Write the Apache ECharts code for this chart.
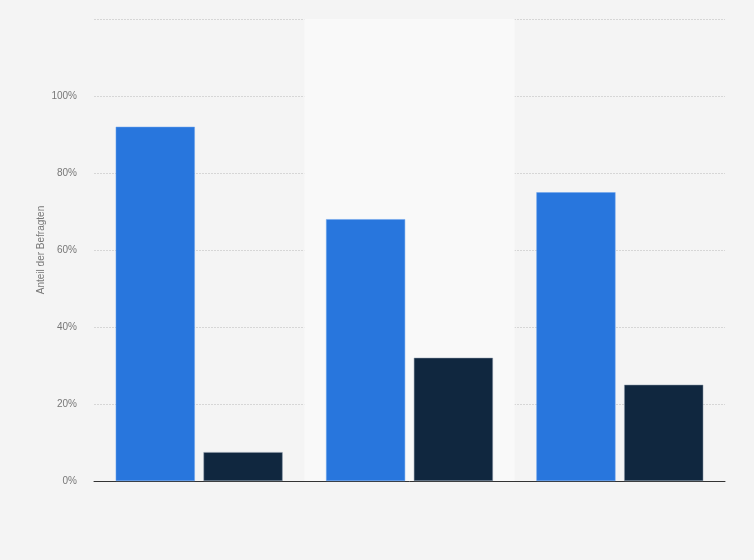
<!doctype html>
<html>
<head>
<meta charset="utf-8" />
<title></title>
<script src="https://cdn.jsdelivr.net/npm/echarts@6/dist/echarts.min.js"></script>
<style>
  html, body { margin: 0; padding: 0; background: #f4f4f4; }
  #main { width: 754px; height: 560px; }
</style>
</head>
<body>
<div id="main"></div>
<script>
// Daten (Anteil in %)
var categories = ['A', 'B', 'C'];
var seriesJa = [92, 68, 75];
var seriesNein = [7.5, 32, 25];
var yTicks = [0, 20, 40, 60, 80, 100, 120];

var myChart = echarts.init(document.getElementById('main'));

var option = {
  backgroundColor: '#f4f4f4',
  animation: false,
  grid: { left: 94, right: 29, top: 19, bottom: 79 },
  xAxis: {
    type: 'category',
    data: categories,
    axisLine: { lineStyle: { color: '#333', width: 1 } },
    axisTick: { show: false },
    axisLabel: { show: false },
    splitArea: { show: true, areaStyle: { color: ['rgba(0,0,0,0)', '#f9f9f9'] } }
  },
  yAxis: {
    type: 'value',
    min: yTicks[0],
    max: yTicks[yTicks.length - 1],
    interval: 20,
    name: 'Anteil der Befragten',
    nameLocation: 'middle',
    nameGap: 48,
    nameMoveOverlap: false,
    nameTextStyle: { color: '#777', fontSize: 10, fontFamily: 'Liberation Sans, Arial, sans-serif' },
    axisLine: { show: false },
    axisTick: { show: false },
    axisLabel: {
      color: '#777',
      fontSize: 10,
      margin: 17,
      fontFamily: 'Liberation Sans, Arial, sans-serif',
      formatter: function (v) { return v === 120 ? '' : v + '%'; }
    },
    splitLine: { lineStyle: { color: '#d6d6d6', type: [2, 1], width: 1 } }
  },
  series: [
    {
      name: 'Ja',
      type: 'bar',
      data: seriesJa,
      barWidth: '37.6%',
      barGap: '11%',
      itemStyle: { color: '#2876dd', borderColor: '#6aa3ec', borderWidth: 0.5 }
    },
    {
      name: 'Nein',
      type: 'bar',
      data: seriesNein,
      barWidth: '37.6%',
      itemStyle: { color: '#10273f', borderColor: '#8a98a8', borderWidth: 0.5 }
    }
  ]
};

myChart.setOption(option);
</script>
</body>
</html>
